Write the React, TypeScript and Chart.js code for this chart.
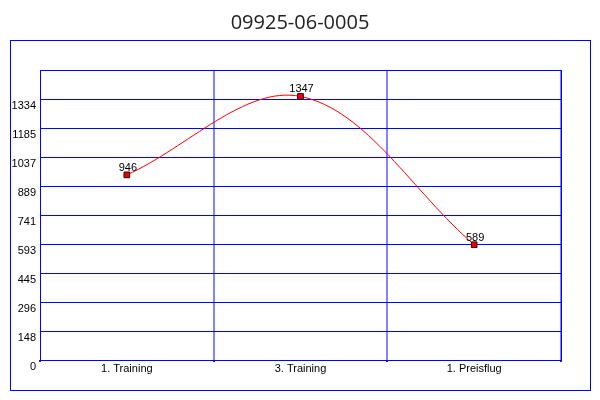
import React, { useEffect, useRef } from "react";
import { Chart, registerables } from "chart.js";

Chart.register(...registerables);

const titleText = "09925-06-0005";
const categories = ["1. Training", "3. Training", "1. Preisflug"];
const seriesValues = [946, 1347, 589];
const yTickValues = [0, 148.2, 296.4, 444.6, 592.8, 741, 889.2, 1037.4, 1185.6, 1333.8, 1482];
const yTickLabels = ["0", "148", "296", "445", "593", "741", "889", "1037", "1185", "1334", ""];
const yMax = 1482;

const FONT = "'Liberation Sans', Arial, sans-serif";
const BLUE = "#0000ff";

const framePlugin = {
  id: "frame",
  beforeDraw(chart: any) {
    const ctx = chart.ctx;
    ctx.save();
    ctx.fillStyle = "#ffffff";
    ctx.fillRect(0, 0, chart.width, chart.height);
    ctx.strokeStyle = BLUE;
    ctx.lineWidth = 1;
    ctx.strokeRect(10.5, 40.5, 580, 350);
    ctx.font = "20px 'Open Sans', sans-serif";
    ctx.fillStyle = "#222222";
    ctx.textAlign = "center";
    ctx.textBaseline = "alphabetic";
    ctx.fillText(titleText, 300, 29);
    ctx.restore();
  },
  beforeDatasetsDraw(chart: any) {
    const { ctx, chartArea } = chart;
    const yScale = chart.scales.y;
    ctx.save();
    const l = Math.round(chartArea.left);
    const r = Math.round(chartArea.right);
    ctx.fillStyle = BLUE;
    yTickValues.forEach((v) => {
      const py = Math.round(yScale.getPixelForValue(v));
      ctx.fillRect(l, py, r - l + 1, 1);
    });
    ctx.strokeStyle = BLUE;
    ctx.lineWidth = 1;
    ctx.strokeRect(
      l + 0.5,
      Math.round(chartArea.top) + 0.5,
      r - l,
      Math.round(chartArea.bottom - chartArea.top)
    );
    ctx.restore();
  },
  afterDatasetsDraw(chart: any) {
    const ctx = chart.ctx;
    const meta = chart.getDatasetMeta(0);
    ctx.save();
    ctx.font = `11px ${FONT}`;
    ctx.fillStyle = "#000000";
    ctx.textAlign = "center";
    ctx.textBaseline = "alphabetic";
    meta.data.forEach((el: any, i: number) => {
      ctx.fillText(String(seriesValues[i]), el.x + 1, el.y - 4);
    });
    ctx.restore();
  },
};

export default function App() {
  const ref = useRef<HTMLCanvasElement | null>(null);

  useEffect(() => {
    if (!ref.current) return;
    const chart = new Chart(ref.current, {
      type: "line",
      data: {
        labels: categories,
        datasets: [
          {
            data: seriesValues,
            borderColor: "#ff0000",
            borderWidth: 1,
            tension: 0.35,
            pointStyle: "rect",
            pointRadius: 4,
            pointBackgroundColor: "#ee0000",
            pointBorderColor: "#330000",
            pointBorderWidth: 1,
            fill: false,
          },
        ],
      },
      options: {
        responsive: false,
        animation: false,
        layout: { padding: { left: 0, right: 39, top: 70, bottom: 0 } },
        plugins: {
          legend: { display: false },
          tooltip: { enabled: false },
          title: { display: false },
        },
        scales: {
          x: {
            type: "category",
            offset: true,
            border: { display: false },
            grid: {
              offset: true,
              drawTicks: true,
              tickLength: 2,
              tickWidth: 2,
              tickColor: "#333333",
              lineWidth: 2,
              color: (c: any) =>
                c.index === 0 || c.index === categories.length ? "rgba(0,0,0,0)" : "rgba(90,90,255,0.75)",
            },
            ticks: {
              color: "#000000",
              font: { family: FONT, size: 11 },
              padding: 0,
              maxRotation: 0,
            },
            afterFit(scale: any) {
              scale.height = 40;
            },
          },
          y: {
            min: 0,
            max: yMax,
            border: { display: false },
            grid: { display: false, drawTicks: false },
            afterBuildTicks(scale: any) {
              scale.ticks = yTickValues.map((v) => ({ value: v }));
            },
            ticks: {
              color: "#000000",
              font: { family: FONT, size: 11 },
              padding: 4,
              labelOffset: 7,
              autoSkip: false,
              callback: (_v: any, i: number) => yTickLabels[i],
            },
            afterFit(scale: any) {
              scale.width = 40;
            },
          },
        },
      },
      plugins: [framePlugin],
    });
    return () => chart.destroy();
  }, []);

  return (
    <canvas
      ref={ref}
      width={600}
      height={400}
      style={{ position: "fixed", left: 0, top: 0, width: 600, height: 400 }}
    />
  );
}
